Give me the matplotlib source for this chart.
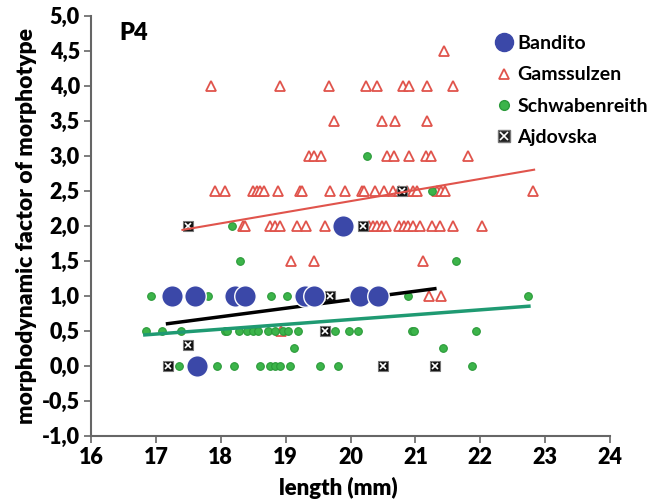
import matplotlib.pyplot as plt
from matplotlib.ticker import FuncFormatter
from matplotlib.lines import Line2D

plt.rcParams['font.family'] = ['Lato', 'DejaVu Sans']
plt.rcParams['font.weight'] = 'bold'

# Gamssulzen (open red triangles)
gams_x = [21.44,
          17.85, 18.91, 19.67, 20.24, 20.41, 20.81, 20.90, 21.18, 21.58,
          19.74, 20.48, 20.69, 21.18,
          19.36, 19.44, 19.54, 20.56, 20.67, 20.90, 21.16, 21.24, 21.81,
          17.91, 18.07, 18.50, 18.56, 18.61, 18.67, 18.89, 19.22, 19.26, 19.69,
          19.92, 20.17, 20.21, 20.37, 20.52, 20.66, 20.74, 20.87, 20.96, 21.02,
          21.33, 21.39, 21.46, 22.82,
          18.35, 18.38, 18.76, 18.84, 18.92, 19.17, 19.32, 19.61, 20.29, 20.35,
          20.41, 20.48, 20.55, 20.75, 20.82, 20.89, 20.97, 21.07, 21.25, 21.38,
          21.58, 22.02,
          19.09, 19.43, 21.12,
          21.21, 21.39,
          18.93]
gams_y = [4.5] + [4.0] * 9 + [3.5] * 4 + [3.0] * 9 + [2.5] * 24 + [2.0] * 22 \
         + [1.5] * 3 + [1.0] * 2 + [0.5]

# Schwabenreith (green dots)
schw_x = [20.25,
          21.26,
          18.18,
          18.29, 21.62,
          16.92, 17.80, 18.78, 19.02, 20.89, 22.73,
          16.85, 17.09, 17.38, 18.06, 18.09, 18.28, 18.40, 18.50, 18.58, 18.73,
          18.84, 18.96, 19.04, 19.19, 19.76, 19.98, 20.12, 20.95, 20.98, 21.94,
          19.13, 21.43,
          17.35, 17.94, 18.20, 18.61, 18.76, 18.84, 18.92, 19.07, 19.53, 19.81,
          21.88]
schw_y = [3.0] + [2.5] + [2.0] + [1.5] * 2 + [1.0] * 6 + [0.5] * 20 \
         + [0.25] * 2 + [0.0] * 11

# Ajdovska (black squares with cross)
ajd_x = [20.79, 17.50, 20.20, 19.68, 19.61, 17.50, 17.19, 20.50, 21.30]
ajd_y = [2.5, 2.0, 2.0, 1.0, 0.5, 0.3, 0.0, 0.0, 0.0]

# Bandito (large blue dots)
band_x = [19.88, 17.25, 17.61, 18.22, 18.37, 19.30, 19.43, 20.14, 20.43, 17.63]
band_y = [2.0, 1.0, 1.0, 1.0, 1.0, 1.0, 1.0, 1.0, 1.0, 0.0]

# linear trend lines (end points)
gams_fit_x, gams_fit_y = [17.41, 22.83], [1.94, 2.80]
band_fit_x, band_fit_y = [17.18, 21.30], [0.60, 1.10]
schw_fit_x, schw_fit_y = [16.83, 22.75], [0.44, 0.85]

blue = '#3b48a8'
red = '#e0544c'
green = '#3cb44a'
teal = '#1f9a72'

fig = plt.figure(figsize=(6.48, 5.03), dpi=100)
ax = fig.add_axes([0.1404, 0.1338, 0.801, 0.835])

ax.plot(gams_x, gams_y, ls='none', marker='^', ms=6.5, mfc='white',
        mec=red, mew=1.3, zorder=2)
ax.plot(schw_x, schw_y, ls='none', marker='o', ms=5.5, mfc=green,
        mec='#2b9a3a', mew=0.8, zorder=3)
ax.plot(ajd_x, ajd_y, ls='none', marker='s', ms=7.5, mfc='#111111',
        mec='#777777', mew=0.8, zorder=4)
ax.plot(ajd_x, ajd_y, ls='none', marker='x', ms=4.5, mec='white',
        mew=1.2, zorder=4)

ax.plot(gams_fit_x, gams_fit_y, color=red, lw=1.5, zorder=5)
ax.plot(schw_fit_x, schw_fit_y, color=teal, lw=2.5, zorder=5)
ax.plot(band_fit_x, band_fit_y, color='black', lw=2.5, zorder=5)

ax.plot(band_x, band_y, ls='none', marker='o', ms=15.5, mfc=blue,
        mec='white', mew=1.0, zorder=6)

ax.set_xlim(16, 24)
ax.set_ylim(-1.0, 5.0)
ax.set_xticks(range(16, 25))
ax.set_yticks([v / 2 for v in range(-2, 11)])
ax.yaxis.set_major_formatter(FuncFormatter(lambda v, p: f'{v:.1f}'.replace('.', ',')))
ax.tick_params(labelsize=15.5, length=5, width=1.2, color='#666666',
               direction='out', pad=3)
for t in ax.get_xticklabels() + ax.get_yticklabels():
    t.set_fontweight('heavy')
for side in ('top', 'right'):
    ax.spines[side].set_visible(False)
for side in ('left', 'bottom'):
    ax.spines[side].set_color('#666666')
    ax.spines[side].set_linewidth(1.5)

ax.set_xlabel('length (mm)', fontsize=16, fontweight='heavy', va='top')
ax.xaxis.set_label_coords(0.476, -0.098)
ax.set_ylabel('morphodynamic factor of morphotype', fontsize=16.5,
              fontweight='heavy')
ax.yaxis.set_label_coords(-0.104, 0.5)
ax.text(0.055, 0.985, 'P4', transform=ax.transAxes, fontsize=17,
        fontweight='heavy', va='top', ha='left')

handles = [
    Line2D([], [], ls='none', marker='o', ms=13, mfc=blue, mec=blue),
    Line2D([], [], ls='none', marker='^', ms=7, mfc='white', mec=red, mew=1.3),
    Line2D([], [], ls='none', marker='o', ms=7, mfc=green, mec='#2b9a3a'),
    (Line2D([], [], ls='none', marker='s', ms=8.5, mfc='#222222', mec='#777777'),
     Line2D([], [], ls='none', marker='x', ms=5.5, mec='white', mew=1.2)),
]
labels = ['Bandito', 'Gamssulzen', 'Schwabenreith', 'Ajdovska']
leg = ax.legend(handles, labels, loc='upper left',
                bbox_to_anchor=(495 / 648, 1 - 35 / 503),
                bbox_transform=fig.transFigure, frameon=False,
                prop={'size': 14, 'weight': 'bold'}, handlelength=0.9,
                handletextpad=0.25, labelspacing=0.74, borderpad=0,
                borderaxespad=0)

fig.savefig('out.png', dpi=100)
